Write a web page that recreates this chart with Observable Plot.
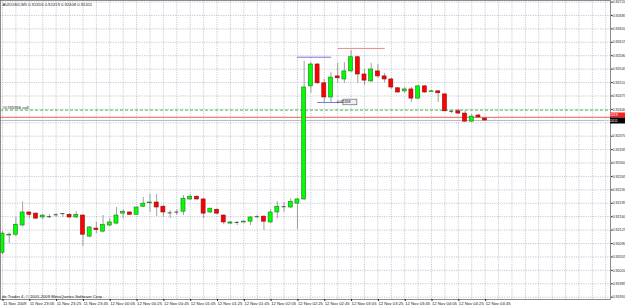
<!DOCTYPE html>
<html><head><meta charset="utf-8">
<script src="https://cdn.jsdelivr.net/npm/d3@7"></script>
<script src="https://cdn.jsdelivr.net/npm/@observablehq/plot@0.6"></script>
<style>body{margin:0;background:#fff;overflow:hidden} svg{display:block}</style>
</head><body><div id="chart"></div>
<script>
const symbol = "AUDUSD,M5";
const copyright = "do Trader 4, \u00a9 2001-2009 MetaQuotes Software Corp.";
const timeLabels = ["11 Nov 2009","11 Nov 23:05","11 Nov 23:25","11 Nov 23:45","12 Nov 00:05","12 Nov 00:25","12 Nov 00:45","12 Nov 01:05","12 Nov 01:25","12 Nov 01:45","12 Nov 02:05","12 Nov 02:25","12 Nov 02:45","12 Nov 03:05","12 Nov 03:25","12 Nov 03:45","12 Nov 04:05","12 Nov 04:25","12 Nov 04:45"];
const barsPerLabel = 4;
const priceTicks = [0.91950,0.91985,0.92020,0.92055,0.92090,0.92125,0.92160,0.92195,0.92230,0.92265,0.92300,0.92335,0.92370,0.92405,0.92440,0.92475,0.92510,0.92545,0.92580,0.92615,0.92650,0.92685,0.92720];

const opens  = [0.92066,0.92111,0.92113,0.92137,0.92171,0.92168,0.92158,0.92159,0.92164,0.92168,0.92165,0.92158,0.92163,0.92108,0.92129,0.92121,0.92137,0.92142,0.92168,0.92171,0.92165,0.92186,0.92195,0.92197,0.92186,0.92171,0.92171,0.92173,0.92205,0.92212,0.92205,0.92171,0.92178,0.92163,0.92142,0.92145,0.92145,0.92147,0.92159,0.92160,0.92145,0.92171,0.92186,0.92184,0.92194,0.92205,0.92500,0.92557,0.92508,0.92471,0.92526,0.92518,0.92539,0.92576,0.92531,0.92513,0.92539,0.92526,0.92518,0.92495,0.92487,0.92492,0.92468,0.92500,0.92485,0.92487,0.92479,0.92435,0.92435,0.92429,0.92408,0.92424,0.92416];
const highs  = [0.92121,0.92118,0.92158,0.92199,0.92173,0.92171,0.92165,0.92165,0.92168,0.92168,0.92168,0.92173,0.92165,0.92134,0.92145,0.92163,0.92155,0.92184,0.92178,0.92173,0.92186,0.92210,0.92218,0.92218,0.92189,0.92176,0.92178,0.92215,0.92218,0.92215,0.92207,0.92181,0.92181,0.92165,0.92147,0.92147,0.92150,0.92160,0.92163,0.92163,0.92178,0.92199,0.92197,0.92207,0.92207,0.92565,0.92562,0.92560,0.92518,0.92536,0.92560,0.92562,0.92594,0.92578,0.92544,0.92560,0.92557,0.92534,0.92521,0.92497,0.92497,0.92497,0.92502,0.92502,0.92489,0.92489,0.92482,0.92437,0.92440,0.92435,0.92427,0.92427,0.92419];
const lows   = [0.92061,0.92090,0.92108,0.92134,0.92155,0.92152,0.92152,0.92155,0.92158,0.92158,0.92155,0.92155,0.92082,0.92105,0.92116,0.92118,0.92134,0.92139,0.92155,0.92163,0.92163,0.92184,0.92171,0.92160,0.92158,0.92155,0.92163,0.92163,0.92202,0.92202,0.92155,0.92168,0.92165,0.92139,0.92139,0.92137,0.92142,0.92137,0.92155,0.92124,0.92142,0.92155,0.92171,0.92181,0.92126,0.92202,0.92482,0.92505,0.92458,0.92458,0.92508,0.92508,0.92536,0.92508,0.92502,0.92510,0.92521,0.92510,0.92492,0.92482,0.92482,0.92458,0.92466,0.92482,0.92484,0.92458,0.92434,0.92429,0.92427,0.92406,0.92406,0.92417,0.92408];
const closes = [0.92116,0.92113,0.92139,0.92171,0.92165,0.92155,0.92163,0.92160,0.92165,0.92168,0.92158,0.92165,0.92113,0.92132,0.92125,0.92139,0.92145,0.92163,0.92173,0.92165,0.92184,0.92194,0.92197,0.92184,0.92171,0.92170,0.92172,0.92207,0.92212,0.92205,0.92168,0.92181,0.92168,0.92145,0.92145,0.92145,0.92147,0.92158,0.92160,0.92147,0.92171,0.92186,0.92186,0.92199,0.92205,0.92497,0.92557,0.92508,0.92471,0.92523,0.92521,0.92539,0.92576,0.92531,0.92515,0.92544,0.92526,0.92518,0.92497,0.92484,0.92492,0.92468,0.92500,0.92484,0.92487,0.92482,0.92435,0.92435,0.92429,0.92408,0.92421,0.92419,0.92411];

const bid = 0.92411;
const ask = 0.92419;
const orderPrice = 0.92438;
const orderLabel = "#0765956 sell";
// drawn objects: start bar, end bar, price, kind
const objStart = [44, 47, 50.1];
const objEnd   = [49.1, 50.7, 57.1];
const objPrice = [0.92576, 0.92458, 0.92599];
const objKind  = ["trend", "trend", "level"];

const bars = opens.map((o, k) => ({i: k, o, h: highs[k], l: lows[k], c: closes[k]}));
const isDoji = d => Math.abs(d.c - d.o) <= 0.0000101;
const upBars = bars.filter(d => !isDoji(d) && d.c > d.o);
const downBars = bars.filter(d => !isDoji(d) && d.c < d.o);
const dojis = bars.filter(isDoji);
const objects = objStart.map((s, k) => ({s, e: objEnd[k], p: objPrice[k], kind: objKind[k]}));
const last = bars[bars.length - 1];
const title = [symbol, last.o, last.h, last.l, last.c].map((v, k) => k ? v.toFixed(5) : v).join(" ");
const labelTicks = priceTicks.filter(t => Math.abs(t - bid) > 0.0001);
const hw = 0.3;
const FS = 4.2;
const FSY = 3.7;
const NARROW = "Liberation Sans Narrow, Arial Narrow, Liberation Sans, sans-serif";
const gridStyle = {stroke: "#9ea4b8", strokeOpacity: 1, strokeWidth: 0.6, strokeDasharray: "1.2,1.2"};

const chart = Plot.plot({
  width: 625, height: 307,
  marginLeft: 0, marginRight: 15, marginTop: 0, marginBottom: 8,
  style: {fontFamily: "Liberation Sans, Arial, sans-serif", fontSize: FS + "px", background: "#fff", color: "#222"},
  x: {domain: [-0.3, 90.7], axis: null},
  y: {domain: [0.91944, 0.92724], axis: null},
  marks: [
    Plot.gridX(d3.range(0, 91, 2), gridStyle),
    Plot.gridY(priceTicks, gridStyle),
    Plot.ruleY([orderPrice], {stroke: "#22b022", strokeWidth: 0.8, strokeDasharray: "3,2"}),
    Plot.ruleY([ask], {stroke: "#f08080", strokeWidth: 1.2}),
    Plot.ruleY([bid], {stroke: "#a8a8a8", strokeWidth: 0.8}),
    Plot.ruleY(objects, {y: "p", x1: "s", x2: "e", stroke: d => d.kind === "trend" ? "#6a6ad8" : "#f07878", strokeWidth: 0.9}),
    Plot.ruleX(bars, {x: "i", y1: "l", y2: "h", stroke: "#8a8a8a", strokeWidth: 0.8}),
    Plot.rect(upBars, {x1: d => d.i - hw, x2: d => d.i + hw, y1: "o", y2: "c", fill: "#00ff00", stroke: "#1f7a1f", strokeWidth: 0.6}),
    Plot.rect(downBars, {x1: d => d.i - hw, x2: d => d.i + hw, y1: "o", y2: "c", fill: "#ff0000", stroke: "#8a1010", strokeWidth: 0.6}),
    Plot.ruleY(dojis, {y: "c", x1: d => d.i - hw, x2: d => d.i + hw, stroke: "#2a4a2a", strokeWidth: 0.9}),
    Plot.frame({stroke: "#707070", strokeWidth: 0.8}),
    Plot.axisX({ticks: d3.range(0, timeLabels.length * barsPerLabel, barsPerLabel), tickFormat: d => timeLabels[d / barsPerLabel], textAnchor: "start", tickSize: 2, tickPadding: 0.5, dx: 0.5, fontSize: FS, label: null, fill: "#222"}),
    Plot.axisY({anchor: "right", ticks: labelTicks, tickFormat: d => d.toFixed(5), tickSize: 1.5, tickPadding: 0.4, fontSize: FSY, fontFamily: NARROW, label: null, fill: "#222"}),
    Plot.text([title], {frameAnchor: "top-left", dx: 2, dy: 2.5, fontSize: FS, fill: "#222", textAnchor: "start"}),
    Plot.text([copyright], {frameAnchor: "bottom-left", dx: 1.5, dy: -1.5, fontSize: FS, fill: "#222", textAnchor: "start"}),
    Plot.text([orderLabel], {y: orderPrice, frameAnchor: "left", dx: 2, dy: -2.5, fontSize: FS, fill: "#222", textAnchor: "start"})
  ]
});

const svg = d3.select(chart);
const ys = chart.scale("y"), xs = chart.scale("x");
const axisX = 610;
const yb = ys.apply(bid);
// ask badge
svg.append("rect").attr("x", axisX).attr("y", yb - 7.5).attr("width", 15).attr("height", 5).attr("fill", "#ff2020");
svg.append("text").attr("x", axisX + 1.2).attr("y", yb - 3.7).attr("fill", "#fff").attr("font-size", FSY).attr("font-family", NARROW).text(ask.toFixed(5));
// bid badge
svg.append("rect").attr("x", axisX).attr("y", yb - 2.5).attr("width", 15).attr("height", 6).attr("fill", "#000");
svg.append("text").attr("x", axisX + 1.2).attr("y", yb + 1.8).attr("fill", "#fff").attr("font-size", FSY).attr("font-family", NARROW).text(bid.toFixed(5));
// label box on the lower trend line
const ob = objects[1];
const bx = xs.apply(ob.e) + 1, by = ys.apply(ob.p);
svg.append("rect").attr("x", bx).attr("y", by - 2.8).attr("width", 14).attr("height", 5.6).attr("fill", "#f0f0f0").attr("stroke", "#555").attr("stroke-width", 0.6);
svg.append("text").attr("x", bx + 1).attr("y", by + 1.5).attr("fill", "#111").attr("font-size", 3.8).attr("font-family", NARROW).text(ob.p.toFixed(5));

document.getElementById("chart").append(chart);
</script>
</body></html>
